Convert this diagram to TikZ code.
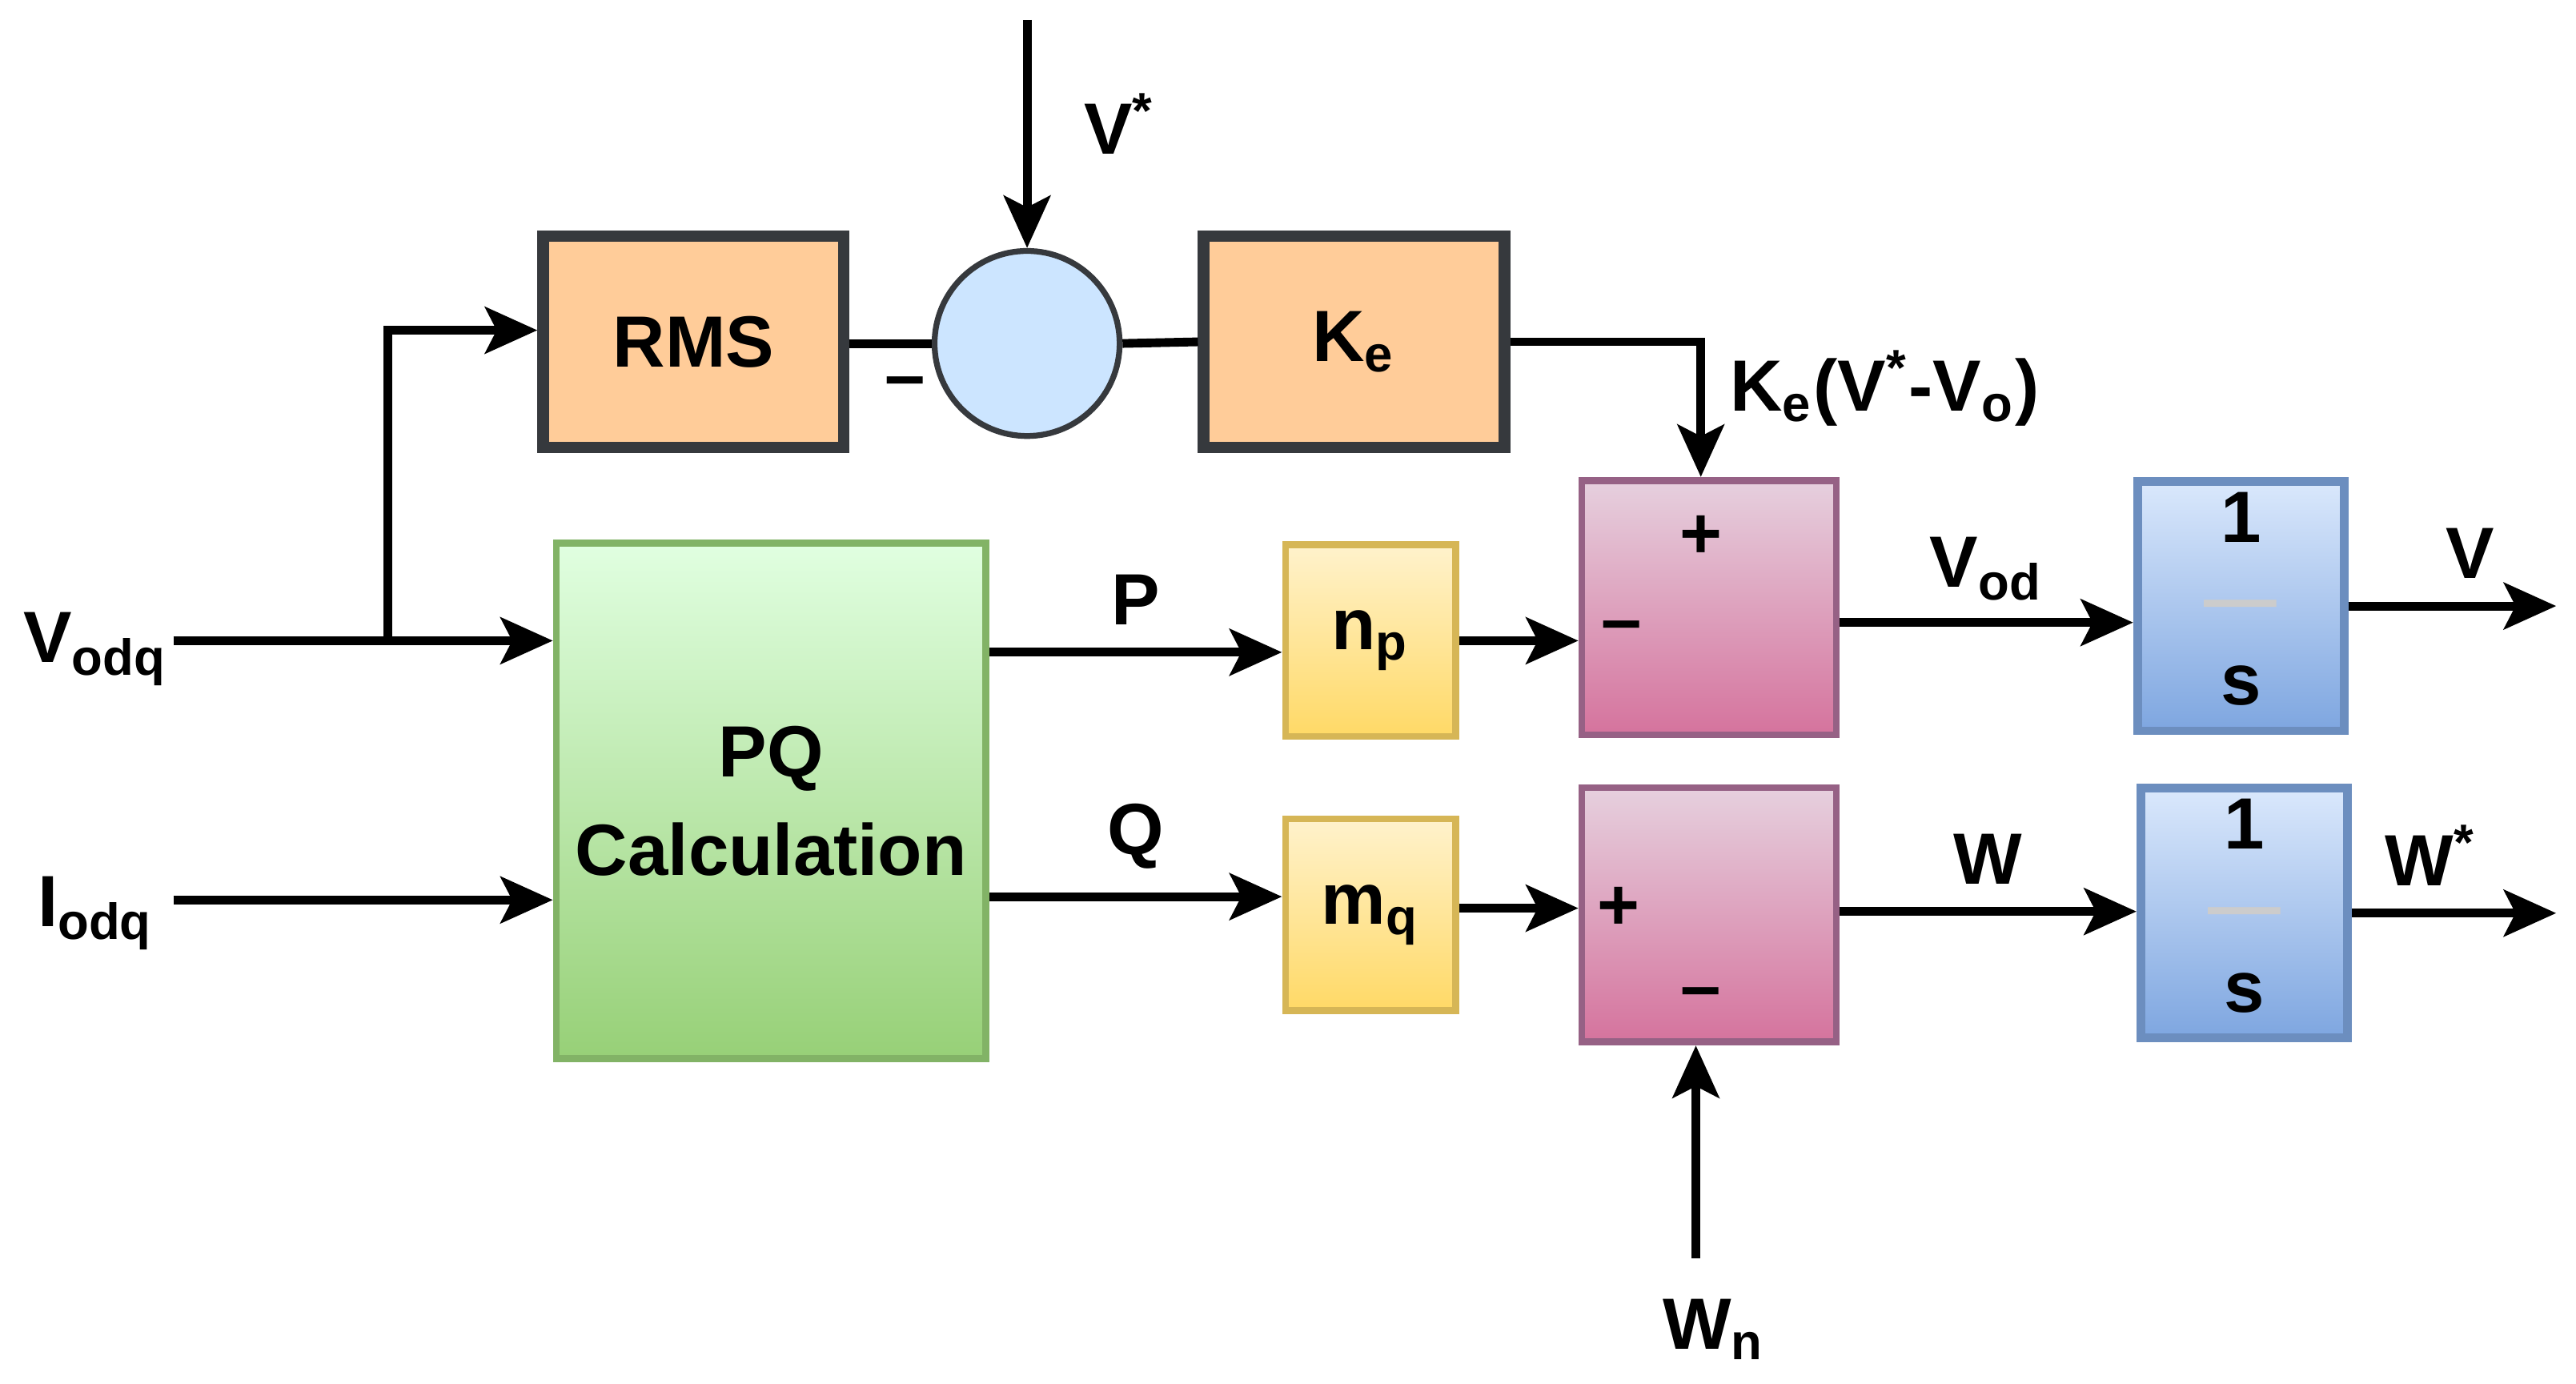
\documentclass[tikz,border=0pt]{standalone}
\usepackage{fontspec}
\setmainfont{Liberation Sans}
\usetikzlibrary{arrows.meta, positioning, calc}
\definecolor{orangeF}{HTML}{FFCC99}
\definecolor{darkB}{HTML}{36393D}
\definecolor{circF}{HTML}{CCE5FF}
\tikzset{
    sig/.style={line width=1.5pt, -{Stealth[length=9pt, width=8pt, inset=2pt]}},
    wire/.style={line width=1.5pt},
    lbl/.style={font=\fontsize{12.5}{15}\selectfont\bfseries, inner sep=0pt},
    blk/.style={rectangle, inner sep=0pt, font=\fontsize{12.5}{15}\selectfont\bfseries, align=center},
    gain/.style={blk, fill=orangeF, draw=darkB, line width=2pt, minimum width=1.82cm, minimum height=1.28cm},
    pq/.style={blk, top color=green!12!white, bottom color={rgb,255:red,151;green,208;blue,119}, draw={rgb,255:red,130;green,179;blue,102}, line width=1.2pt},
    droop/.style={blk, top color={rgb,255:red,255;green,242;blue,204}, bottom color={rgb,255:red,255;green,217;blue,102}, draw={rgb,255:red,214;green,182;blue,86}, line width=1.2pt, minimum width=1.03cm, minimum height=1.16cm},
    summ/.style={blk, top color={rgb,255:red,230;green,208;blue,222}, bottom color={rgb,255:red,213;green,115;blue,157}, draw={rgb,255:red,150;green,97;blue,133}, line width=1.2pt, minimum width=1.54cm, minimum height=1.54cm},
    integ/.style={blk, top color={rgb,255:red,218;green,232;blue,252}, bottom color={rgb,255:red,126;green,166;blue,224}, draw={rgb,255:red,108;green,142;blue,191}, line width=1.5pt, minimum width=1.25cm, minimum height=1.25cm},
}
\newcommand{\Sub}[2]{#1\textsubscript{#2}}
\newcommand{\Star}[1]{#1\textsuperscript{*}}
\newcommand{\Integ}{\begin{tabular}{@{}c@{}}1\\[-1pt]{\color{gray!40}---}\\[-1pt]s\end{tabular}}

\begin{document}
\begin{tikzpicture}[x=0.01cm, y=-0.01cm]
    \useasboundingbox (0,0) rectangle (1560,838);

    % top branch
    \node[gain] (rms) at (420,207) {RMS};
    \node[circle, draw=darkB, fill=circF, line width=1pt, minimum size=1.12cm, inner sep=0pt] (err) at (622,208) {};
    \node[gain] (ke) at (820,207) {K\textsubscript{e}};
    \coordinate (vref) at (622,12);
    \node[lbl] (vrefl) at (678,75) {\Star{V}};

    % power calculation and droop gains
    \node[pq, minimum width=2.60cm, minimum height=3.12cm] (pqc) at (467,485) {PQ\\[2pt]Calculation};
    \node[droop] (np) at (830,388) {\Sub{n}{p}};
    \node[droop] (mq) at (830,554) {\Sub{m}{q}};

    % summing blocks
    \node[summ] (s1) at (1035,368) {};
    \node[lbl] at (1030,325) {+};
    \node[lbl] at (982,383) {--};
    \node[summ] (s2) at (1035,554) {};
    \node[lbl] at (980,550) {+};
    \node[lbl] at (1030,605) {--};

    % integrators
    \node[integ] (i1) at (1357,367) {\Integ};
    \node[integ] (i2) at (1359,553) {\Integ};

    % inputs and outputs
    \coordinate (vin) at (105,388);
    \coordinate (iin) at (105,545);
    \coordinate (wn) at (1027,762);
    \coordinate (vout) at (1548,367);
    \coordinate (wout) at (1548,553);
    \node[lbl] at (58,393) {\Sub{V}{odq}};
    \node[lbl] at (58,553) {\Sub{I}{odq}};
    \node[lbl] at (1038,805) {\Sub{W}{n}};

    % connections
    \draw[sig] (vin) -- (vin -| pqc.west);
    \draw[sig] (235,388) |- (rms.west |- 0,200);
    \draw[sig] (iin) -- (iin -| pqc.west);
    \draw[sig] (vref) -- (err.north);
    \draw[wire] (rms.east |- 0,208) -- (err.west);
    \node[lbl] at (548,235) {--};
    \draw[wire] (err.east) -- (ke.west);
    \draw[sig] (ke.east) -| (s1.north -| 1030,0);
    \node[lbl, anchor=west] at (1047,235) {K\textsubscript{e}(\Star{V}-\Sub{V}{o})};
    \draw[sig] (pqc.east |- 0,395) -- node[lbl, above=4pt] {P} (np.west |- 0,395);
    \draw[sig] (pqc.east |- 0,543) -- node[lbl, above=4pt] {Q} (mq.west |- 0,543);
    \draw[sig] (np.east |- 0,388) -- (s1.west |- 0,388);
    \draw[sig] (mq.east |- 0,550) -- (s2.west |- 0,550);
    \draw[sig] (wn) -- (s2.south -| wn);
    \draw[sig] (s1.east |- 0,377) -- node[lbl, above=3pt] {\Sub{V}{od}} (i1.west |- 0,377);
    \draw[sig] (s2.east |- 0,552) -- node[lbl, above=4pt] {W} (i2.west |- 0,552);
    \draw[sig] (i1.east) -- node[lbl, above=4pt, xshift=3pt] {V} (vout);
    \draw[sig] (i2.east) -- node[lbl, above=4pt, xshift=-4pt] {\Star{W}} (wout);
\end{tikzpicture}
\end{document}
